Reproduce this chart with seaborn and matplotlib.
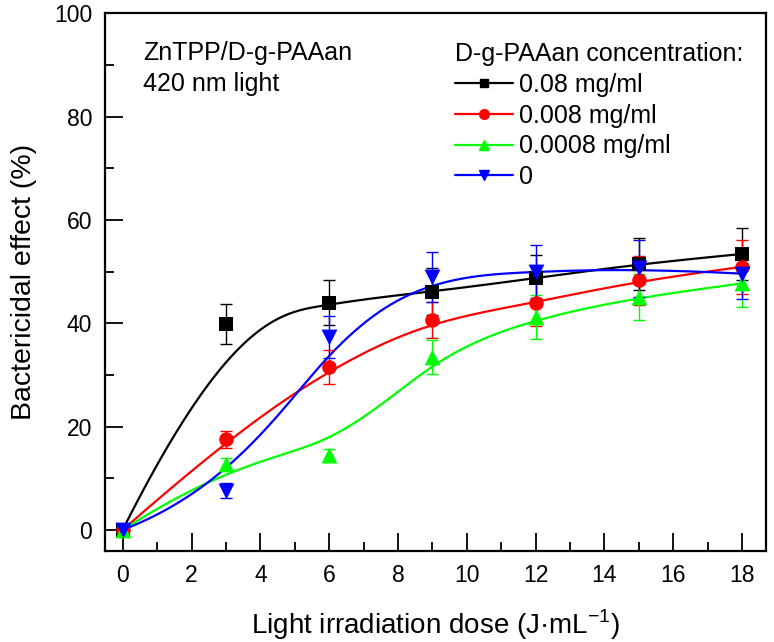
import numpy as np
import pandas as pd
import seaborn as sns
import matplotlib
matplotlib.use("Agg")
import matplotlib.pyplot as plt
from matplotlib.lines import Line2D
from matplotlib.ticker import MultipleLocator

# ---------------- data ----------------
dose = [0, 3, 6, 9, 12, 15, 18]
series_names = ["0.08 mg/ml", "0.008 mg/ml", "0.0008 mg/ml", "0"]
y_008 = [0, 39.9, 44.0, 46.1, 48.7, 51.5, 53.4]
e_008 = [0, 3.9, 4.4, 4.5, 4.5, 5.0, 5.1]
y_0008 = [0, 17.5, 31.5, 40.6, 43.9, 48.3, 50.9]
e_0008 = [0, 1.7, 3.3, 3.5, 4.4, 4.8, 5.2]
y_00008 = [0, 12.8, 14.4, 33.5, 41.2, 45.1, 47.7]
e_00008 = [0, 1.2, 1.2, 3.3, 4.3, 4.5, 4.5]
y_0 = [0, 7.6, 37.3, 49.0, 50.0, 50.6, 49.6]
e_0 = [0, 1.5, 4.1, 4.8, 5.1, 5.5, 5.0]
x_ticks = [0, 2, 4, 6, 8, 10, 12, 14, 16, 18]
y_ticks = [0, 20, 40, 60, 80, 100]

values = [y_008, y_0008, y_00008, y_0]
errors = [e_008, e_0008, e_00008, e_0]
colors = ["#000000", "#ff0000", "#00ff00", "#0000ff"]
markers = ["s", "o", "^", "v"]
msizes = [90, 110, 130, 130]
leg_ms = [5.5, 7, 7.5, 7.5]


def bspline(px, py, n_eval=300, k=3):
    """Clamped uniform cubic B-spline using data points as control points."""
    px = np.asarray(px, float)
    py = np.asarray(py, float)
    n = len(px)
    inner = np.arange(1, n - k)
    knots = np.concatenate([np.zeros(k + 1), inner, np.full(k + 1, n - k)])
    t = np.linspace(0, n - k, n_eval)
    t[-1] -= 1e-9
    N = np.zeros((n_eval, len(knots) - 1))
    for i in range(len(knots) - 1):
        N[:, i] = ((t >= knots[i]) & (t < knots[i + 1])).astype(float)
    for d in range(1, k + 1):
        Nn = np.zeros((n_eval, len(knots) - 1 - d))
        for i in range(len(knots) - 1 - d):
            a = knots[i + d] - knots[i]
            b = knots[i + d + 1] - knots[i + 1]
            term = np.zeros(n_eval)
            if a > 0:
                term += (t - knots[i]) / a * N[:, i]
            if b > 0:
                term += (knots[i + d + 1] - t) / b * N[:, i + 1]
            Nn[:, i] = term
        N = Nn
    return N @ px, N @ py


sns.set_style("ticks")
plt.rcParams["font.family"] = ["Liberation Sans", "DejaVu Sans"]
plt.rcParams["mathtext.fontset"] = "custom"
plt.rcParams["mathtext.rm"] = "Liberation Sans"
for key in ["text.color", "axes.labelcolor", "xtick.color", "ytick.color",
            "axes.edgecolor"]:
    plt.rcParams[key] = "black"

fig = plt.figure(figsize=(7.74, 6.42), dpi=100)
ax = fig.add_axes([104.5 / 774, 1 - 551 / 642, (766 - 104.5) / 774, (551 - 13.3) / 642])

for name, yv, ev, c, m, s in zip(series_names, values, errors, colors, markers, msizes):
    cx, cy = bspline(dose, yv)
    curve = pd.DataFrame({"x": cx, "y": cy})
    sns.lineplot(data=curve, x="x", y="y", sort=False, estimator=None,
                 color=c, linewidth=1.6, ax=ax, zorder=2)
    ax.errorbar(dose, yv, yerr=ev, fmt="none", ecolor=c, elinewidth=1.0,
                capsize=4.5, capthick=1.0, zorder=3)
    pts = pd.DataFrame({"x": dose, "y": yv})
    sns.scatterplot(data=pts, x="x", y="y", marker=m, s=s, color=c,
                    edgecolor=c, linewidth=0, ax=ax, zorder=4)

ax.set_xlim(-0.53, 18.7)
ax.set_ylim(-4.1, 100)
ax.set_xticks(x_ticks)
ax.set_yticks(y_ticks)
ax.xaxis.set_minor_locator(MultipleLocator(1))
ax.yaxis.set_minor_locator(MultipleLocator(10))
ax.tick_params(which="both", direction="in", width=1.3, labelsize=16.5,
               top=False, right=False, colors="black")
ax.tick_params(which="major", length=13, pad=9)
ax.tick_params(which="minor", length=6.5)
for sp in ax.spines.values():
    sp.set_linewidth(1.6)
    sp.set_color("black")

ax.set_xlabel("Light irradiation dose (J·mL$^{-1}$)", fontsize=20, labelpad=15)
ax.set_ylabel("Bactericidal effect (%)", fontsize=20.5, labelpad=12)

ax.text(143 / 774, 1 - 60 / 642, "ZnTPP/D-g-PAAan", transform=fig.transFigure,
        fontsize=18, va="baseline", ha="left")
ax.text(143 / 774, 1 - 91 / 642, "420 nm light", transform=fig.transFigure,
        fontsize=18, va="baseline", ha="left")

handles = [Line2D([0], [0], color=c, marker=m, markersize=ms, linewidth=1.6)
           for c, m, ms in zip(colors, markers, leg_ms)]
leg = ax.legend(handles, series_names, title="D-g-PAAan concentration:",
                loc="upper left", bbox_to_anchor=(455 / 774, 1 - 42 / 642),
                bbox_transform=fig.transFigure, frameon=False, fontsize=18,
                title_fontsize=18, handlelength=2.3, handletextpad=0.25,
                labelspacing=0.27, borderpad=0, borderaxespad=0,
                alignment="left")
leg.get_title().set_ha("left")

fig.savefig("out.png", dpi=100)
